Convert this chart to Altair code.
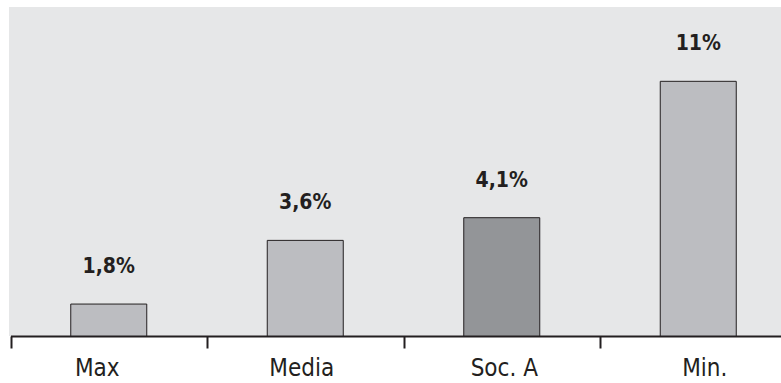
import altair as alt
import pandas as pd

categories = ["Max", "Media", "Soc. A", "Min."]
label_values = ["1,8%", "3,6%", "4,1%", "11%"]
# bar heights as drawn in the picture (units where the "Min." bar = 11)
bar_heights = [1.38, 4.13, 5.11, 11.0]
highlight = [False, False, True, False]

df = pd.DataFrame({
    "cat": categories,
    "h": bar_heights,
    "label": label_values,
    "hl": highlight,
})

FONT = "DejaVu Sans Condensed, Roboto, sans-serif"
INK = "#231f20"

label_offset = {
    "condition": [
        {"test": "datum.value === 'Max'", "value": -12},
        {"test": "datum.value === 'Media'", "value": -4},
        {"test": "datum.value === 'Soc. A'", "value": 2},
    ],
    "value": 6,
}

x = alt.X("cat:N", sort=categories, title=None,
          scale=alt.Scale(range=[1.5, 787.5], paddingInner=0, paddingOuter=0),
          axis=alt.Axis(labelAngle=0, tickBand="extent", domainColor=INK, domainWidth=2,
                        tickColor=INK, tickWidth=2, tickSize=12, labelFont=FONT,
                        labelFontSize=24, labelColor=INK, labelPadding=8, grid=False,
                        labelOffset=label_offset))
y = alt.Y("h:Q", scale=alt.Scale(domain=[0, 14.21]), axis=None)

bars = alt.Chart(df).mark_bar(size=76, stroke=INK, strokeWidth=1).encode(
    x=x, y=y,
    color=alt.Color("hl:N", scale=alt.Scale(domain=[False, True], range=["#bcbdc1", "#939598"]),
                    legend=None),
)
text = alt.Chart(df).mark_text(font=FONT, fontWeight="bold", fontSize=21, color=INK,
                               baseline="alphabetic", dy=-31).encode(
    x=x, y=y, text="label:N")

chart = (bars + text).properties(
    width=772, height=329,
    autosize=alt.AutoSizeParams(type="none"),
    padding={"left": 9, "top": 7, "right": 0, "bottom": 47},
    background="white",
).configure_view(fill="#e6e7e8", stroke=None)

chart.save("out.html", embed_options={"renderer": "svg", "actions": False})
